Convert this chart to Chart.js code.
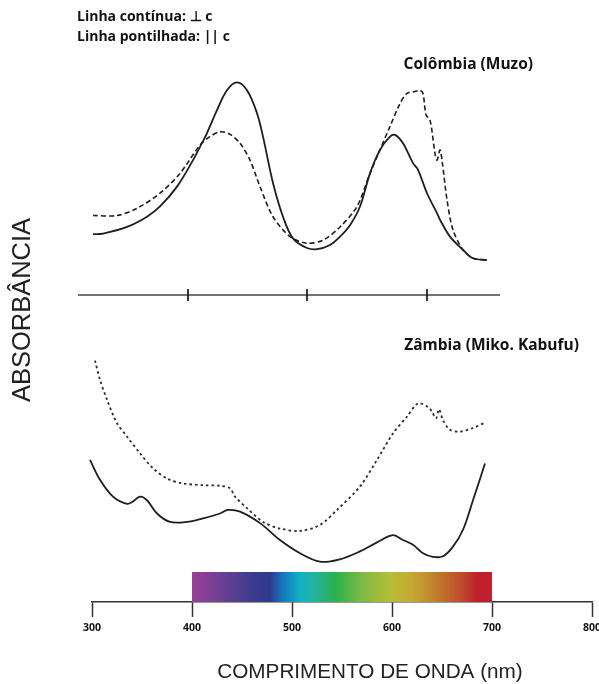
<!DOCTYPE html>
<html>
<head>
<meta charset="utf-8">
<script src="https://cdn.jsdelivr.net/npm/chart.js@4.4.0/dist/chart.umd.min.js"></script>
<style>
  body { margin: 0; background: #fff; }
  #wrap { width: 599px; height: 684px; position: relative; }
</style>
</head>
<body>
<div id="wrap"><canvas id="chart"></canvas></div>
<script>
// Eixo x: comprimento de onda (nm)
const xTicks = [300, 400, 500, 600, 700, 800];

// Colômbia (Muzo) - linha contínua (⊥ c)
const colSolidNm  = [301, 311, 335, 355, 368, 385, 401, 408, 415, 425, 435, 445, 455, 465, 471, 481, 491, 501, 515, 525, 538, 548, 558, 568, 578, 588, 598, 603, 611, 621, 626, 635, 645, 648, 658, 671, 681, 695];
const colSolidAbs = [61.1, 61.2, 62.3, 64.0, 65.7, 69.0, 73.4, 75.6, 77.9, 81.7, 85.0, 86.3, 85.0, 81.2, 77.3, 69.6, 64.0, 60.4, 58.8, 58.6, 59.3, 60.7, 62.6, 65.7, 71.2, 75.1, 77.3, 77.6, 76.2, 72.9, 71.8, 67.9, 64.6, 63.5, 60.7, 58.5, 57.1, 56.8];

// Colômbia (Muzo) - linha pontilhada (|| c)
const colDashNm  = [301, 325, 345, 368, 388, 408, 418, 428, 438, 448, 458, 468, 481, 498, 515, 531, 548, 565, 578, 588, 598, 608, 615, 623, 628, 631, 634, 638, 643, 645, 648, 650, 655, 661, 671, 681, 695];
const colDashAbs = [64.2, 64.2, 65.4, 67.9, 71.2, 75.9, 77.3, 78.1, 77.7, 76.2, 73.4, 69.0, 64.0, 60.7, 59.6, 60.1, 62.3, 65.7, 71.2, 75.1, 79.0, 82.8, 84.5, 84.8, 85.0, 84.5, 80.9, 80.1, 74.5, 73.4, 75.1, 73.4, 66.8, 61.8, 58.5, 57.1, 56.8];

// Linha de separação com marcas
const sepNm  = [286, 396, 515, 635, 708];
const sepAbs = [51, 51, 51, 51, 51];

// Zâmbia (Miko. Kabufu) - linha contínua (⊥ c)
const zamSolidNm  = [298, 308, 321, 335, 341, 348, 355, 365, 378, 395, 411, 428, 436, 448, 468, 488, 508, 528, 548, 568, 585, 601, 611, 621, 631, 641, 651, 661, 671, 681, 693];
const zamSolidAbs = [23.6, 20.3, 17.5, 16.3, 16.7, 17.5, 16.9, 14.7, 13.3, 13.3, 13.9, 14.7, 15.3, 15.0, 13.1, 10.3, 8.1, 6.7, 7.1, 8.4, 9.9, 11.1, 10.3, 9.5, 8.1, 7.5, 7.6, 9.2, 12.0, 16.9, 23.0];

// Zâmbia (Miko. Kabufu) - linha pontilhada (|| c)
const zamDashNm  = [303, 308, 315, 325, 335, 348, 361, 375, 391, 411, 428, 438, 443, 455, 471, 488, 508, 528, 545, 568, 585, 601, 615, 626, 636, 640, 644, 647, 651, 658, 668, 681, 693];
const zamDashAbs = [40.1, 36.9, 33.6, 29.7, 27.5, 24.7, 22.2, 20.5, 19.7, 19.4, 19.3, 18.9, 17.5, 15.6, 13.3, 12.2, 11.8, 12.8, 15.3, 19.2, 23.6, 28.0, 30.8, 33.0, 32.4, 31.6, 30.5, 32.0, 30.2, 28.6, 28.3, 28.9, 29.8];

function toPoints(xs, ys) {
    return xs.map((x, i) => ({ x: x, y: ys[i] }));
}

// Faixa do espectro visível e textos
const spectrumPlugin = {
    id: "spectrum",
    beforeDatasetsDraw(chart) {
        const ctx = chart.ctx;
        const xs = chart.scales.x;
        const x0 = xs.getPixelForValue(400);
        const x1 = xs.getPixelForValue(700);
        const bottom = chart.chartArea.bottom;
        const grad = ctx.createLinearGradient(x0, 0, x1, 0);
        const stops = [
            [0.00, "#9c3f98"], [0.10, "#6a4193"], [0.20, "#3c3d8f"], [0.26, "#2d3a8c"],
            [0.30, "#1574bd"], [0.36, "#10b1c1"], [0.40, "#22b3a3"], [0.48, "#2bb24b"],
            [0.56, "#78b945"], [0.66, "#b6bd36"], [0.73, "#c6aa33"], [0.82, "#c07a2d"],
            [0.90, "#c04a2b"], [0.95, "#bf1f2c"], [1.00, "#c21f2c"]
        ];
        stops.forEach(s => grad.addColorStop(s[0], s[1]));
        ctx.save();
        ctx.fillStyle = grad;
        ctx.fillRect(x0, bottom - 30, x1 - x0, 30);
        ctx.restore();
    },
    afterDraw(chart) {
        const ctx = chart.ctx;
        ctx.save();
        ctx.fillStyle = "#111";
        ctx.textBaseline = "middle";
        ctx.textAlign = "left";
        ctx.font = "bold 14px 'Open Sans'";
        ctx.fillText("Linha contínua: ⊥ c", 77, 17);
        ctx.fillText("Linha pontilhada: || c", 77, 37);
        ctx.font = "bold 15.5px 'Open Sans'";
        ctx.textAlign = "right";
        ctx.fillText("Colômbia (Muzo)", 533, 65);
        ctx.fillText("Zâmbia (Miko. Kabufu)", 579, 346);

        ctx.fillStyle = "#222";
        ctx.textAlign = "center";
        ctx.font = "20.7px 'Liberation Sans'";
        ctx.fillText("COMPRIMENTO DE ONDA (nm)", 370, 672);
        ctx.translate(23, 310);
        ctx.rotate(-Math.PI / 2);
        ctx.font = "25.5px 'Liberation Sans'";
        ctx.fillText("ABSORBÂNCIA", 0, 0);
        ctx.restore();
    }
};

const lineColor = "#1e1e1e";

new Chart(document.getElementById("chart"), {
    type: "line",
    data: {
        datasets: [
            {
                data: toPoints(colSolidNm, colSolidAbs),
                borderColor: lineColor, borderWidth: 1.8, tension: 0.35,
                pointRadius: 0, clip: false
            },
            {
                data: toPoints(colDashNm, colDashAbs),
                borderColor: lineColor, borderWidth: 1.6, borderDash: [5, 3], tension: 0.3,
                pointRadius: 0, clip: false
            },
            {
                data: toPoints(sepNm, sepAbs),
                borderColor: "#444", borderWidth: 1.3, tension: 0,
                pointStyle: "line", rotation: 90, pointRadius: [0, 6, 6, 6, 0],
                pointBorderWidth: 1.8, pointBorderColor: "#222", clip: false
            },
            {
                data: toPoints(zamSolidNm, zamSolidAbs),
                borderColor: lineColor, borderWidth: 1.8, tension: 0.35,
                pointRadius: 0, clip: false
            },
            {
                data: toPoints(zamDashNm, zamDashAbs),
                borderColor: "#2a2a2a", borderWidth: 1.8, borderDash: [2.5, 3], tension: 0.3,
                pointRadius: 0, clip: false
            }
        ]
    },
    options: {
        responsive: true,
        maintainAspectRatio: false,
        animation: false,
        events: [],
        layout: { padding: { left: 92, right: 7, top: 0, bottom: 0 } },
        plugins: {
            legend: { display: false },
            tooltip: { enabled: false }
        },
        scales: {
            x: {
                type: "linear",
                min: 300,
                max: 800,
                afterBuildTicks: s => { s.ticks = xTicks.map(v => ({ value: v })); },
                afterFit: s => { s.height = 82; s.paddingLeft = 0; s.paddingRight = 0; },
                ticks: {
                    color: "#111",
                    padding: 5,
                    maxRotation: 0,
                    autoSkip: false,
                    font: { family: "'Open Sans'", size: 10.5, weight: "bold" }
                },
                grid: {
                    drawOnChartArea: false,
                    drawTicks: true,
                    tickLength: 15,
                    tickColor: "#333",
                    tickWidth: 1.5
                },
                border: { display: true, color: "#333", width: 1.5 }
            },
            y: {
                display: false,
                min: 0,
                max: 100
            }
        }
    },
    plugins: [spectrumPlugin]
});
</script>
</body>
</html>
